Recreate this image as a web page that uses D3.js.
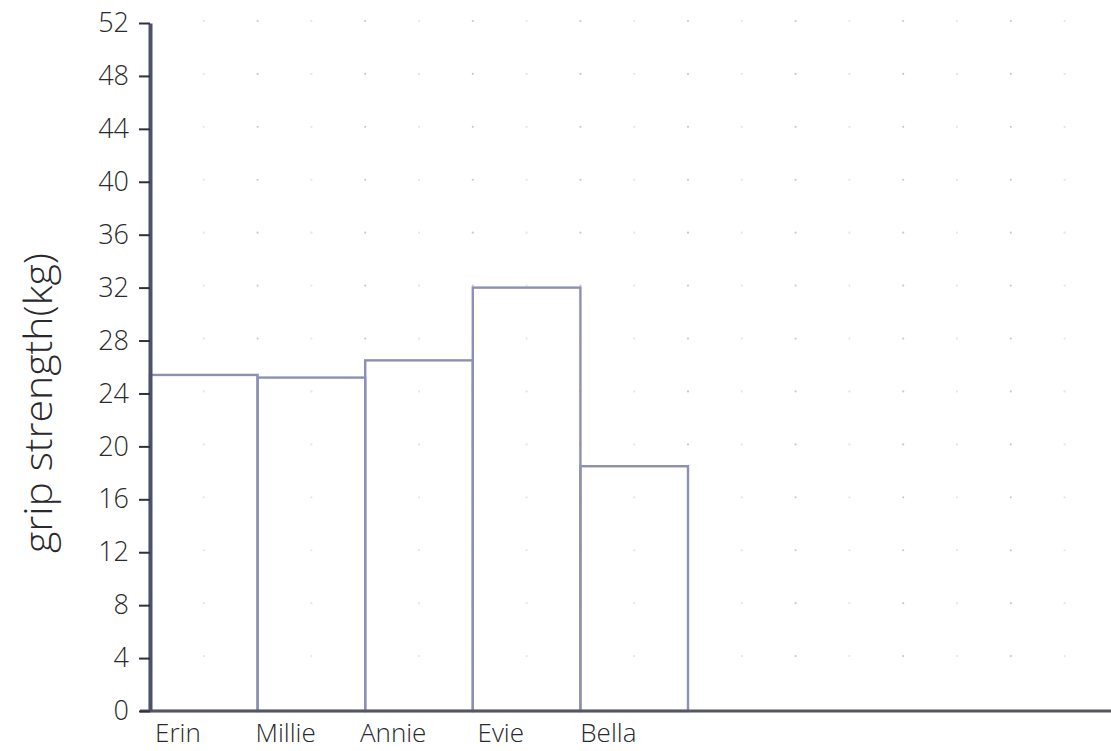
<!DOCTYPE html>
<html>
<head>
<meta charset="utf-8">
<script src="https://cdn.jsdelivr.net/npm/d3@7"></script>
<style>
  html, body { margin: 0; padding: 0; background: #ffffff; }
  svg { display: block; }
  .hand { font-family: "Open Sans", "Lato", "DejaVu Sans", sans-serif; font-weight: 300; }
</style>
</head>
<body>
<svg id="chart" width="1111" height="751"></svg>
<script>
// ---- data ----
const names = ["Erin", "Millie", "Annie", "Evie", "Bella"];
const gripKg = [25.4, 25.2, 26.5, 32.0, 18.5];
const yTicks = [0, 4, 8, 12, 16, 20, 24, 28, 32, 36, 40, 44, 48, 52];
const yTitle = "grip strength(kg)";

// ---- layout ----
const W = 1111, H = 751;
const svg = d3.select("#chart");

const y = d3.scaleLinear().domain([0, 52]).range([711, 23]);
const x = d3.scaleBand().domain(names).range([150, 688]).paddingInner(0).paddingOuter(0);
const step = x.step();

// dotted paper grid
const gridG = svg.append("g");
const cols = [];
for (let k = 1; x.range()[0] + k * step / 2 < W; k++) cols.push({ k, cx: x.range()[0] + k * step / 2 });
const rows = yTicks.filter(t => t > 0).map(t => y(t) - 2);
rows.forEach(cy => {
  cols.forEach(c => {
    gridG.append("circle")
      .attr("cx", c.cx).attr("cy", cy).attr("r", 1.1)
      .attr("fill", c.k % 2 === 0 ? "#c9c9d2" : "#e4e4ea");
  });
});

// bars
const data = names.map((n, i) => ({ name: n, v: gripKg[i] }));
svg.append("g").selectAll("rect").data(data).join("rect")
  .attr("x", d => x(d.name))
  .attr("y", d => y(d.v))
  .attr("width", x.bandwidth())
  .attr("height", d => y(0) - y(d.v))
  .attr("fill", "none")
  .attr("stroke", "#8c90b2")
  .attr("stroke-width", 2.4);

// x axis baseline
svg.append("line")
  .attr("x1", 140).attr("x2", W)
  .attr("y1", y(0)).attr("y2", y(0))
  .attr("stroke", "#55565f").attr("stroke-width", 3.2);

// y axis
const yAxis = d3.axisLeft(y).tickValues(yTicks).tickSize(11).tickPadding(10).tickSizeOuter(0);
const yg = svg.append("g").attr("transform", "translate(150,0)").call(yAxis);
yg.select(".domain").attr("stroke", "#4d526a").attr("stroke-width", 4);
yg.selectAll(".tick line").attr("stroke", "#2f3040").attr("stroke-width", 2);
yg.selectAll(".tick text")
  .attr("class", "hand")
  .attr("font-size", 27)
  .attr("fill", "#2a2a2e");

// x category labels
svg.append("g").selectAll("text").data(data).join("text")
  .attr("class", "hand")
  .attr("x", d => x(d.name) + x.bandwidth() * 0.26)
  .attr("y", 742)
  .attr("text-anchor", "middle")
  .attr("font-size", 26)
  .attr("fill", "#2a2a2e")
  .text(d => d.name);

// y title
svg.append("text")
  .attr("class", "hand")
  .attr("transform", `translate(52,${(253 + 553) / 2}) rotate(-90)`)
  .attr("text-anchor", "middle")
  .attr("font-size", 38)
  .attr("textLength", 300)
  .attr("lengthAdjust", "spacingAndGlyphs")
  .attr("fill", "#2a2a2e")
  .text(yTitle);
</script>
</body>
</html>
